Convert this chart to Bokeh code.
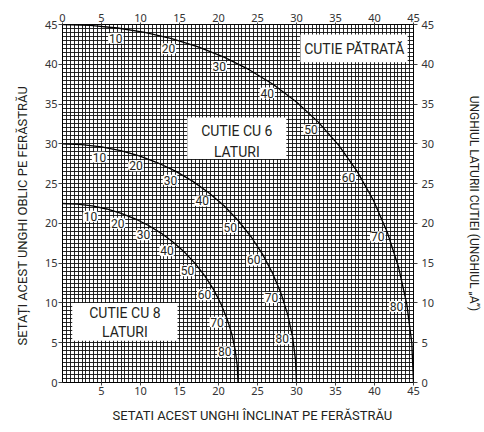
import math
from bokeh.plotting import figure
from bokeh.models import (Range1d, LinearAxis, FixedTicker, SingleIntervalTicker,
                          ColumnDataSource, Label, BoxAnnotation, Title)
from bokeh.core.properties import value
from bokeh.embed import file_html
from bokeh.resources import INLINE

# ---- data ----
slope_angles = [0, 5, 10, 15, 20, 25, 30, 35, 40, 45, 50, 55, 60, 65, 70, 75, 80, 85, 90]

square_bevel = [0, 3.53, 7.05, 10.55, 14.00, 17.39, 20.71, 23.93, 27.03, 30.00,
                32.80, 35.40, 37.76, 39.86, 41.64, 43.08, 44.14, 44.78, 45]
square_miter = [45, 44.89, 44.56, 44.01, 43.22, 42.18, 40.89, 39.32, 37.45, 35.26,
                32.73, 29.84, 26.57, 22.91, 18.88, 14.51, 9.85, 4.98, 0]

hex_bevel = [0, 2.50, 4.98, 7.44, 9.85, 12.20, 14.48, 16.67, 18.75, 20.71,
             22.52, 24.18, 25.66, 26.95, 28.03, 28.88, 29.50, 29.87, 30]
hex_miter = [30, 29.91, 29.62, 29.15, 28.48, 27.62, 26.57, 25.31, 23.86, 22.21,
             20.36, 18.32, 16.10, 13.71, 11.17, 8.50, 5.73, 2.88, 0]

oct_bevel = [0, 1.91, 3.81, 5.68, 7.52, 9.31, 11.03, 12.68, 14.24, 15.70,
             17.05, 18.27, 19.36, 20.29, 21.08, 21.70, 22.14, 22.41, 22.5]
oct_miter = [22.5, 22.42, 22.19, 21.81, 21.27, 20.58, 19.73, 18.75, 17.60, 16.33,
             14.91, 13.37, 11.70, 9.93, 8.06, 6.12, 4.11, 2.07, 0]

label_angles = [10, 20, 30, 40, 50, 60, 70, 80]
axis_ticks = [0, 5, 10, 15, 20, 25, 30, 35, 40, 45]
bottom_ticks = [5, 10, 15, 20, 25, 30, 35, 40, 45]

x_title = "SETATI ACEST UNGHI ÎNCLINAT PE FERĂSTRĂU"
y_title = "SETAȚI ACEST UNGHI OBLIC PE FERĂSTRĂU"
y2_title = "UNGHIUL LATURII CUTIEI (UNGHIUL „A”)"

SANS = "Roboto"
TICKF = "Noto Sans"
TXT = "#231f20"

p = figure(width=484, height=432, x_range=Range1d(0, 45), y_range=Range1d(0, 45),
           output_backend="svg", toolbar_location=None,
           x_axis_location=None, y_axis_location=None,
           min_border_left=60, min_border_right=67, min_border_top=24, min_border_bottom=50,
           background_fill_color="white", border_fill_color="white")
p.outline_line_color = "black"
p.outline_line_width = 1

for g in (p.xgrid, p.ygrid):
    g.ticker = SingleIntervalTicker(interval=0.5, num_minor_ticks=0)
    g.grid_line_color = "#111111"
    g.grid_line_width = 1
    g.grid_line_alpha = 0.9


def make_axis(ticks, tick_out, standoff, label="", label_standoff=0, label_size="14px"):
    ax = LinearAxis(ticker=FixedTicker(ticks=ticks, minor_ticks=[]))
    ax.axis_line_color = "black"
    ax.major_tick_line_color = "#444444"
    ax.major_tick_in = 0
    ax.major_tick_out = tick_out
    ax.minor_tick_out = 0
    ax.minor_tick_in = 0
    ax.major_label_standoff = standoff
    ax.major_label_text_font = TICKF
    ax.major_label_text_font_size = "11px"
    ax.major_label_text_color = "#333333"
    if label:
        ax.axis_label = label
        ax.axis_label_standoff = label_standoff
        ax.axis_label_text_font = SANS
        ax.axis_label_text_font_size = label_size
        ax.axis_label_text_font_style = "normal"
        ax.axis_label_text_color = TXT
    return ax


def make_title(text, standoff, offset):
    return Title(text=text, align="left", standoff=standoff, offset=offset,
                 text_font=SANS, text_font_size="13px", text_font_style="normal",
                 text_color=TXT)


p.add_layout(make_axis(bottom_ticks, 3, 1), "below")
p.add_layout(make_title(x_title, 16, 50), "below")
p.add_layout(make_axis(axis_ticks, 2, 1), "above")
p.add_layout(make_axis(axis_ticks, 4, 1), "left")
p.add_layout(make_title(y_title, 24, 37), "left")
p.add_layout(make_axis(axis_ticks, 4, 4, y2_title, 30, "12px"), "right")

# curves
for bx, my in ((square_bevel, square_miter), (hex_bevel, hex_miter), (oct_bevel, oct_miter)):
    p.line(bx, my, line_color="black", line_width=1.3)

# curve labels, pushed toward origin
lx, ly, lt, xo, yo = [], [], [], [], []
R = 10.5
for bx, my in ((square_bevel, square_miter), (hex_bevel, hex_miter), (oct_bevel, oct_miter)):
    for a in label_angles:
        i = slope_angles.index(a)
        x, y = bx[i], my[i]
        h = math.hypot(x, y)
        lx.append(x)
        ly.append(y)
        lt.append(str(a))
        xo.append(-R * x / h)
        yo.append(R * y / h)
src = ColumnDataSource(dict(x=lx, y=ly, t=lt, xo=xo, yo=yo))
p.text(x="x", y="y", text="t", source=src, x_offset="xo", y_offset="yo",
       text_align="center", text_baseline="middle",
       text_font=value(SANS), text_font_size="12px", text_color=TXT,
       background_fill_color="white", background_fill_alpha=1.0,
       padding=1, border_radius=3)

# boxes with names
boxes = [
    (30.5, 44.25, 40.25, 43.75, [("CUTIE PĂTRATĂ", 37.4, 41.9)]),
    (16.0, 28.7, 28.1, 33.3, [("CUTIE CU 6", 22.35, 31.6), ("LATURI", 22.35, 28.95)]),
    (1.25, 14.75, 5.25, 10.0, [("CUTIE CU 8", 8.0, 8.7), ("LATURI", 8.0, 6.3)]),
]
for l, r, b, t, texts in boxes:
    p.add_layout(BoxAnnotation(left=l, right=r, bottom=b, top=t, fill_color="white",
                               fill_alpha=1.0, line_color=None))
    for s, x, y in texts:
        p.add_layout(Label(x=x, y=y, text=s, text_align="center", text_baseline="middle",
                           text_font=SANS, text_font_size="14px", text_color=TXT))

open("out.html", "w").write(file_html(p, INLINE))
